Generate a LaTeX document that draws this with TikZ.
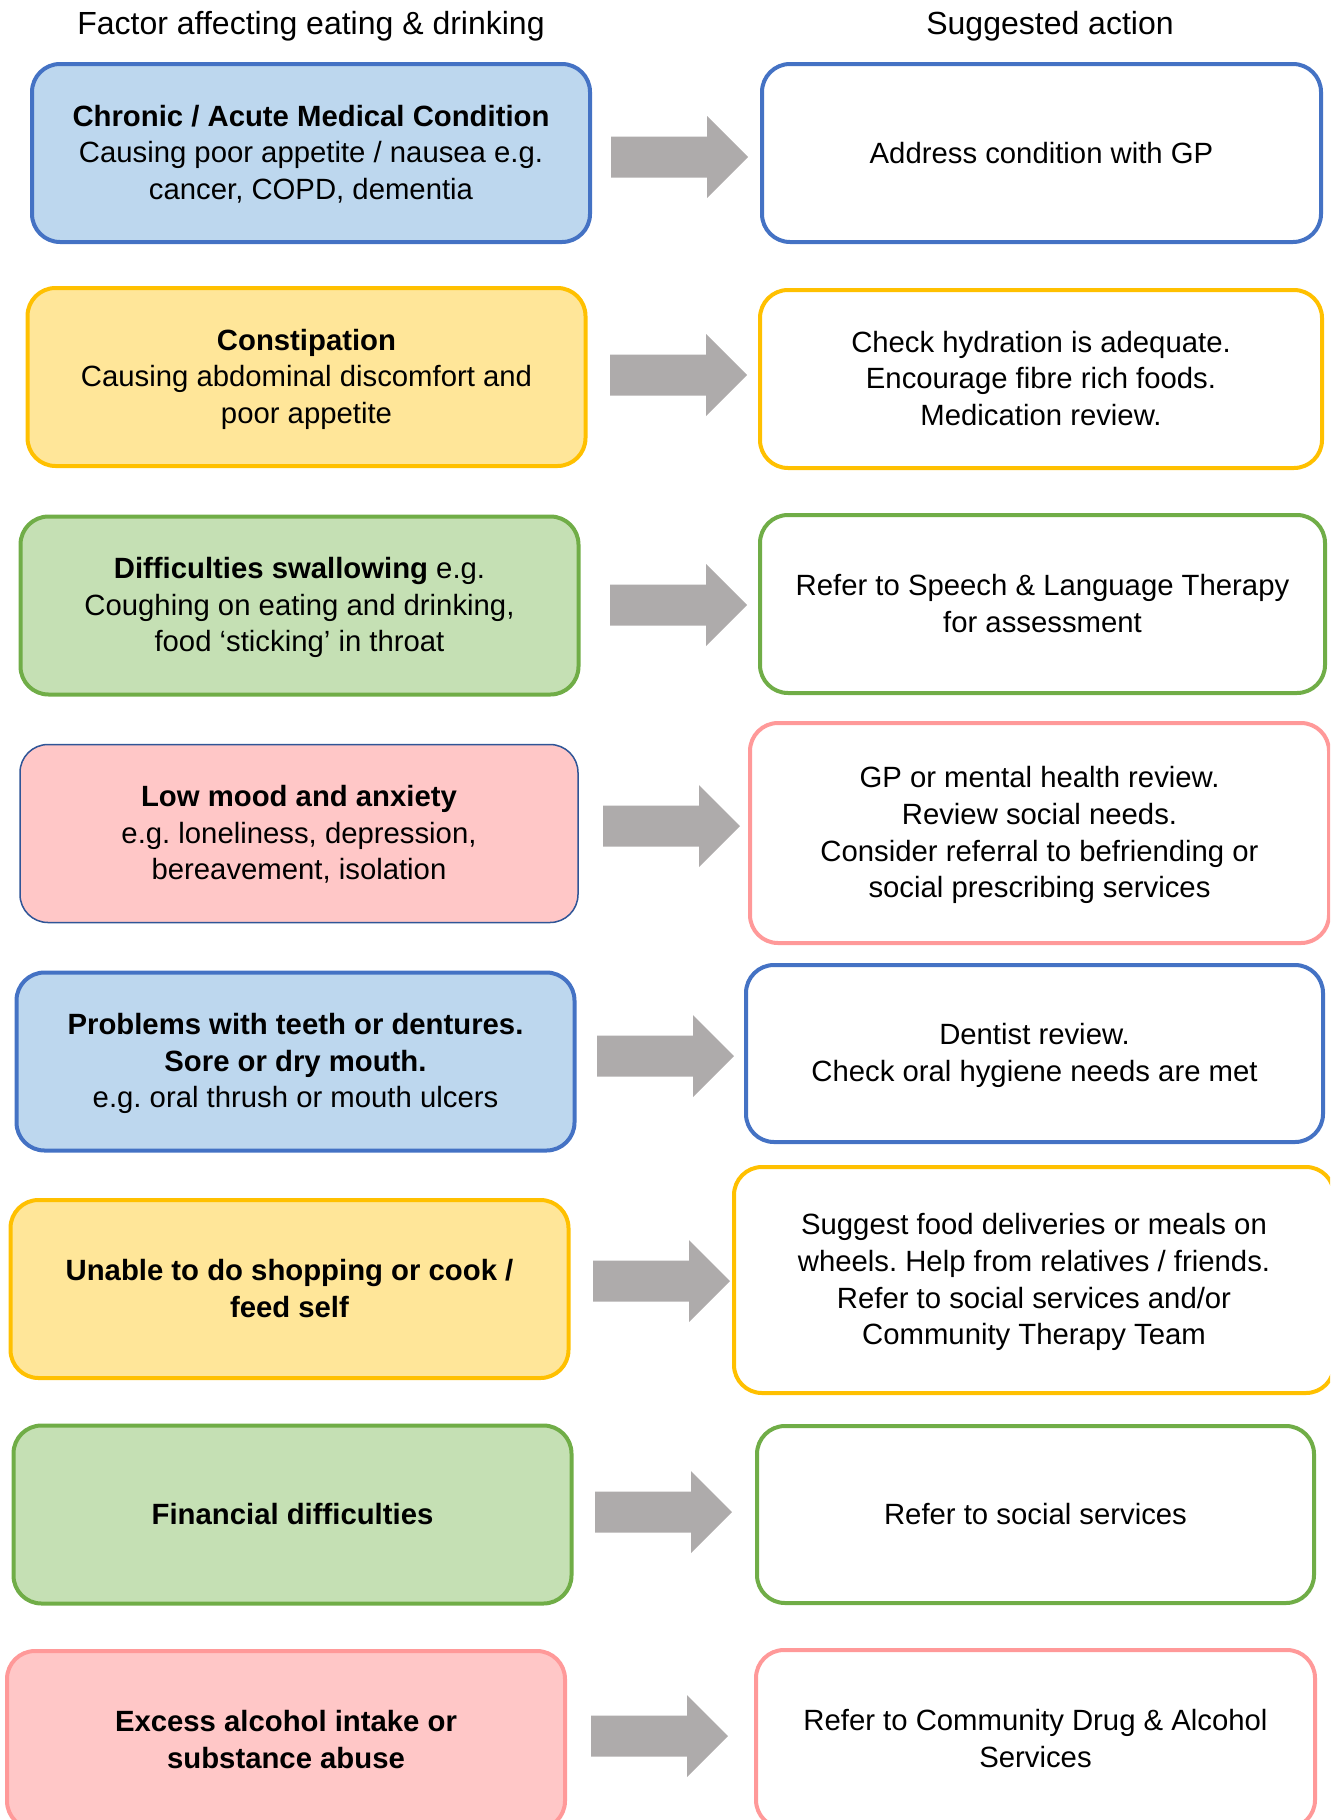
\documentclass[tikz,border=0pt]{standalone}
\usepackage{fontspec}
\setmainfont{Liberation Sans}
\frenchspacing
\definecolor{bblue}{HTML}{4472C4}
\definecolor{fblue}{HTML}{BDD7EE}
\definecolor{byellow}{HTML}{FFC000}
\definecolor{fyellow}{HTML}{FFE699}
\definecolor{bgreen}{HTML}{70AD47}
\definecolor{fgreen}{HTML}{C5E0B4}
\definecolor{bpink}{HTML}{FF9999}
\definecolor{fpink}{HTML}{FFC7C7}
\definecolor{bnavy}{HTML}{2F5597}
\definecolor{arrowgray}{HTML}{AEABAB}
\newcommand\boxfont{\fontsize{14.65}{18.3}\selectfont\frenchspacing}
\newcommand\headfont{\fontsize{16}{19}\selectfont}
% centred lines of a card, set a touch below the card's middle
\newcommand\lines[1]{\raisebox{-1.2pt}[\height][\depth]{%
  \setlength\tabcolsep{0pt}\begin{tabular}{c}#1\end{tabular}}}
\tikzset{
  card/.style={rectangle, rounded corners=14pt, line width=2pt,
    font=\boxfont, inner sep=0pt, minimum width=279pt, minimum height=89pt},
  head/.style={font=\headfont, inner sep=0pt},
  blue/.style={card, draw=bblue, fill=fblue},
  yellow/.style={card, draw=byellow, fill=fyellow},
  green/.style={card, draw=bgreen, fill=fgreen},
  pink/.style={card, draw=bpink, fill=fpink},
  blueact/.style={card, draw=bblue, fill=white},
  yellowact/.style={card, draw=byellow, fill=white},
  greenact/.style={card, draw=bgreen, fill=white},
  pinkact/.style={card, draw=bpink, fill=white},
  blockarrow/.pic={
    \fill[arrowgray] (0,-20.5) -- (96,-20.5) -- (96,-41) -- (137,0)
      -- (96,41) -- (96,20.5) -- (0,20.5) -- cycle;
  }
}
\begin{document}
\begin{tikzpicture}[x=0.5pt, y=-0.5pt]
\useasboundingbox (0,0) rectangle (1330,1820);
\clip (0,0) rectangle (1330,1820);

% column headings
\node[head] (hfactor) at (311,26) {Factor affecting eating \& drinking};
\node[head] (haction) at (1050,26) {Suggested action};

% factors
\node[blue] (f1) at (311,153)
  {\lines{\textbf{Chronic / Acute Medical Condition}\\Causing poor appetite / nausea e.g.\\cancer, COPD, dementia}};
\node[yellow] (f2) at (306.5,377)
  {\lines{\textbf{Constipation}\\Causing abdominal discomfort and\\poor appetite}};
\node[green] (f3) at (299.5,605.5)
  {\lines{\textbf{Difficulties swallowing} e.g.\\Coughing on eating and drinking,\\food ‘sticking’ in throat}};
\node[pink, draw=bnavy, line width=0.75pt] (f4) at (299,833.5)
  {\lines{\textbf{Low mood and anxiety}\\e.g. loneliness, depression,\\bereavement, isolation}};
\node[blue] (f5) at (295.5,1061.5)
  {\lines{\textbf{Problems with teeth or dentures.}\\\textbf{Sore or dry mouth.}\\e.g. oral thrush or mouth ulcers}};
\node[yellow] (f6) at (289.5,1289)
  {\lines{\textbf{Unable to do shopping or cook /}\\\textbf{feed self}}};
\node[green] (f7) at (292.5,1514.5)
  {\textbf{Financial difficulties}};
\node[pink] (f8) at (286,1740)
  {\lines{\textbf{Excess alcohol intake or}\\\textbf{substance abuse}}};

% actions
\node[blueact, minimum width=279.5pt] (a1) at (1041.5,153)
  {Address condition with GP};
\node[yellowact, minimum width=281pt] (a2) at (1041,379)
  {\lines{Check hydration is adequate.\\Encourage fibre rich foods.\\Medication review.}};
\node[greenact, minimum width=282.5pt] (a3) at (1042.5,604)
  {\lines{Refer to Speech \& Language Therapy\\for assessment}};
\node[pinkact, minimum width=289.5pt, minimum height=110pt] (a4) at (1039.5,833)
  {\lines{GP or mental health review.\\Review social needs.\\Consider referral to befriending or\\social prescribing services}};
\node[blueact, minimum width=288.5pt, minimum height=88.5pt] (a5) at (1034.5,1053.5)
  {\lines{Dentist review.\\Check oral hygiene needs are met}};
\node[yellowact, minimum width=300pt, minimum height=113pt] (a6) at (1034,1280)
  {\lines{Suggest food deliveries or meals on\\wheels. Help from relatives / friends.\\Refer to social services and/or\\Community Therapy Team}};
\node[greenact, minimum width=278.5pt, minimum height=88.5pt] (a7) at (1035.5,1514.5)
  {Refer to social services};
\node[pinkact, minimum width=279.5pt] (a8) at (1035.5,1739)
  {\lines{Refer to Community Drug \& Alcohol\\Services}};

% block arrows from each factor to its action
\pic at (611,157) {blockarrow};
\pic at (610,375) {blockarrow};
\pic at (610,605) {blockarrow};
\pic at (603,826) {blockarrow};
\pic at (597,1056) {blockarrow};
\pic at (593,1281) {blockarrow};
\pic at (595,1512) {blockarrow};
\pic at (591,1736) {blockarrow};
\end{tikzpicture}
\end{document}
